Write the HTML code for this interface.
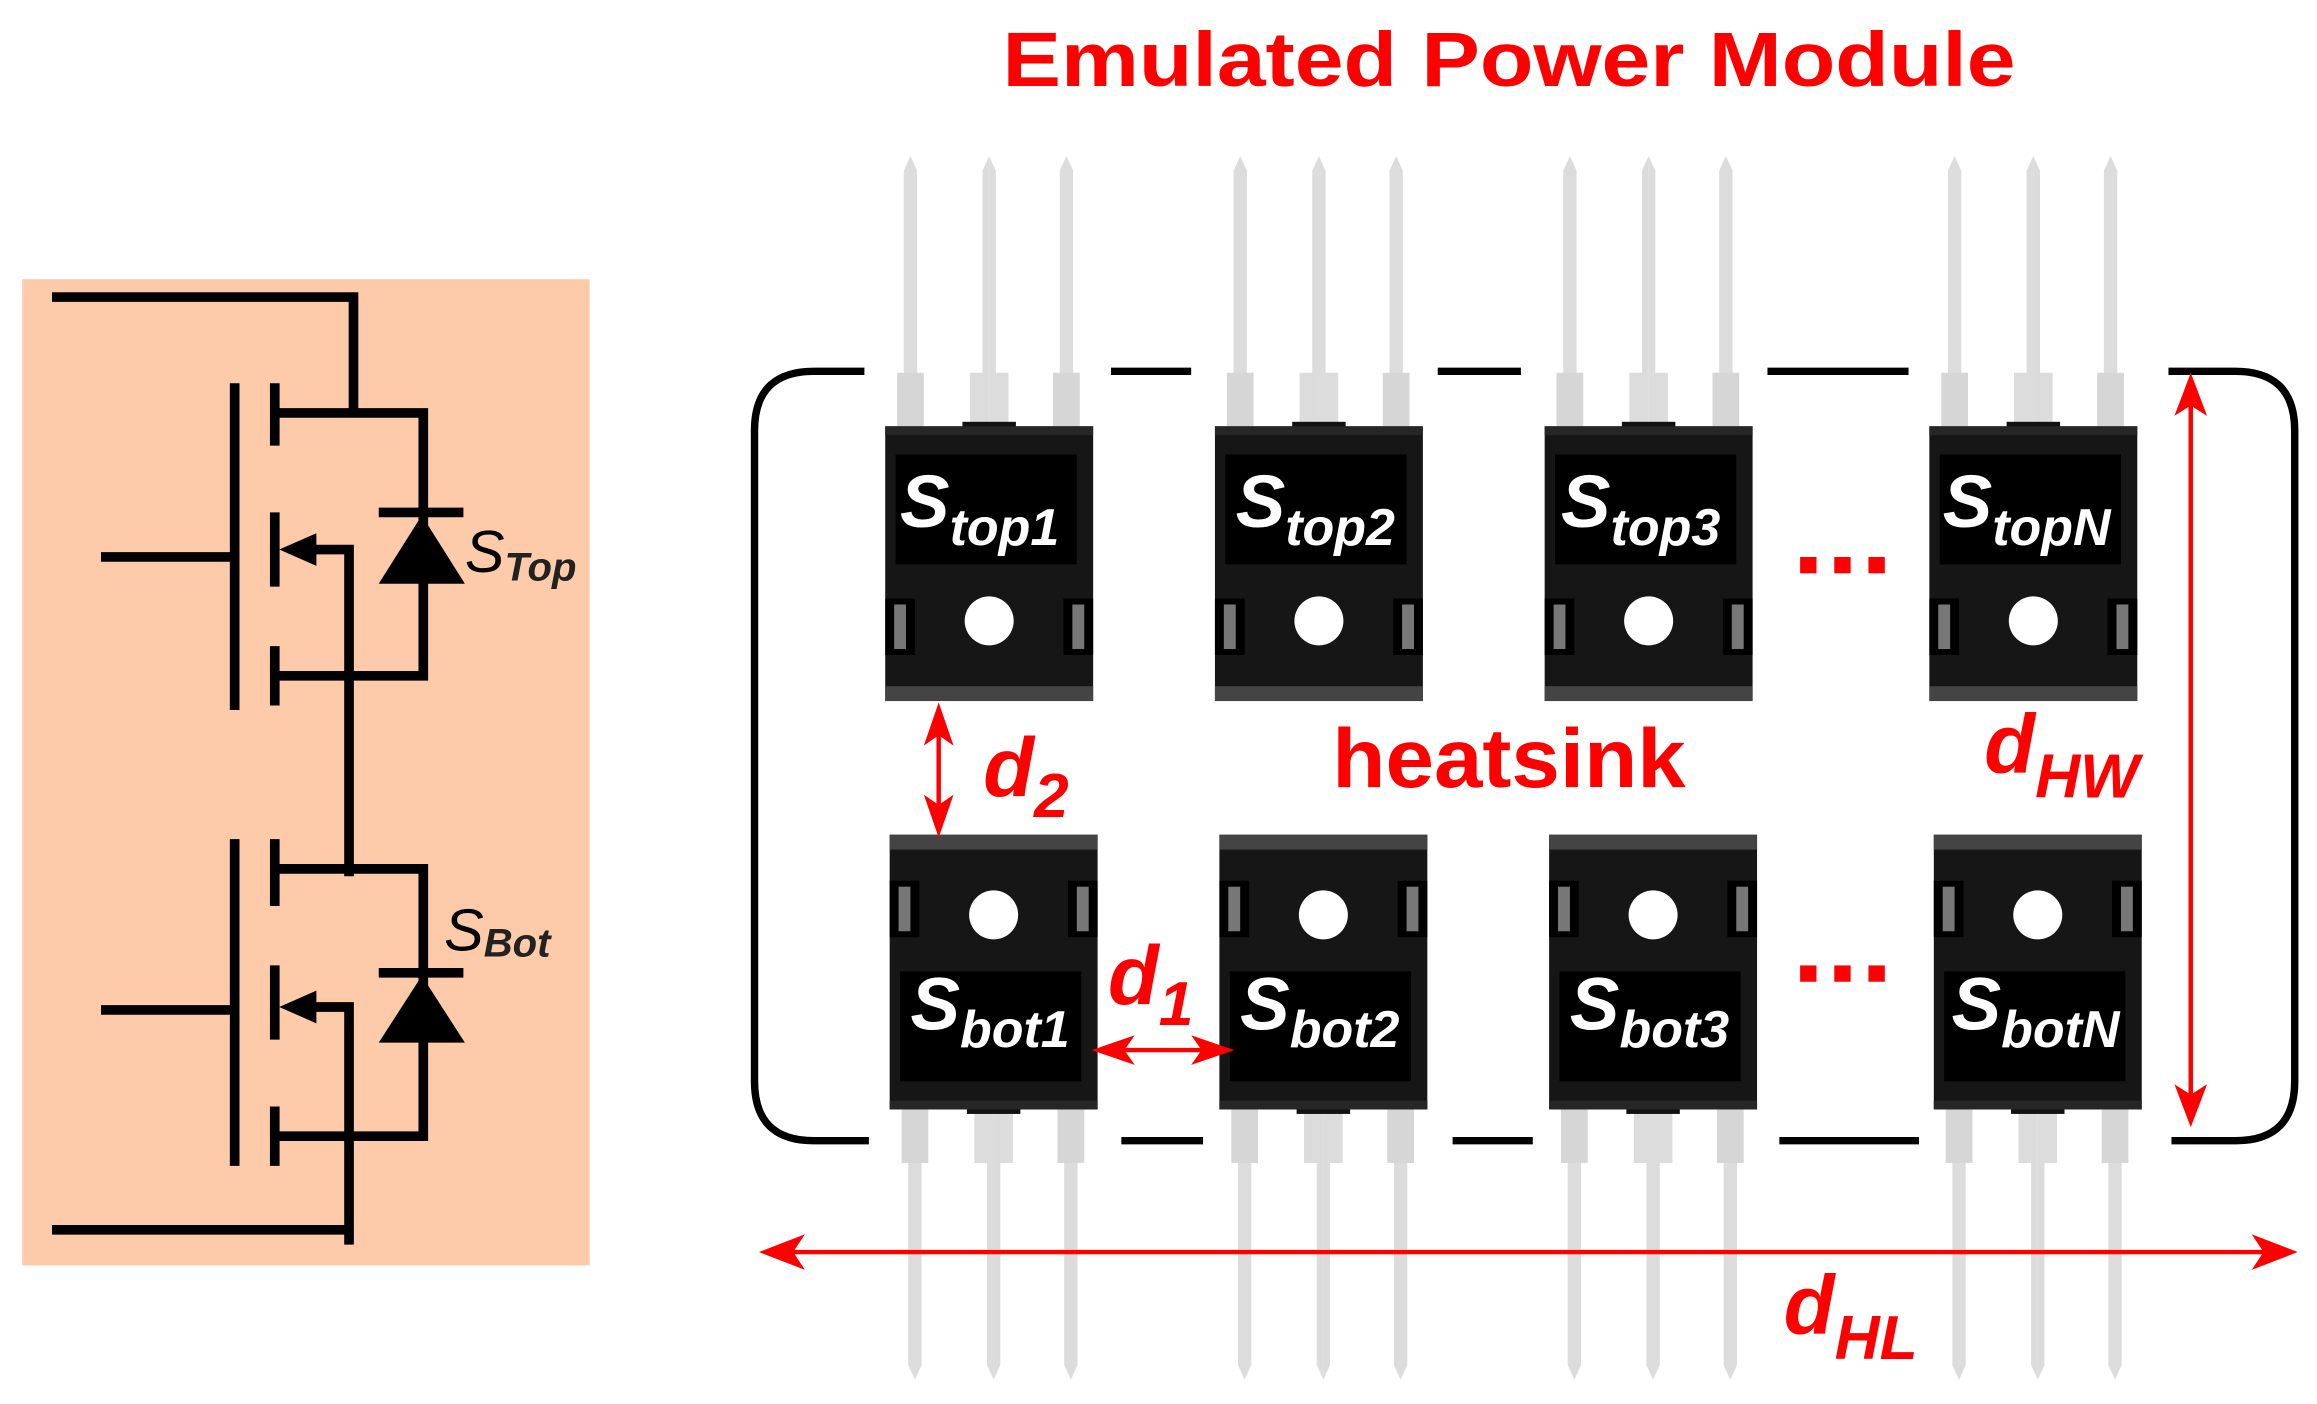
<!DOCTYPE html>
<html><head><meta charset="utf-8"><style>
html,body{margin:0;padding:0;background:#fff;}
svg{display:block;}
</style></head><body>
<svg width="2317" height="1404" viewBox="0 0 1560 945.3" preserveAspectRatio="none" xmlns="http://www.w3.org/2000/svg">
<defs>
<g id="lead">
  <polygon points="-4.5,0 -4.5,-172 0,-182 4.5,-172 4.5,0" fill="#dcdcdc"/>
  <rect x="-9" y="-36" width="18" height="36" fill="#d6d6d6"/>
</g>
<g id="dev">
  <use href="#lead" x="17" y="0"/>
  <use href="#lead" x="122" y="0"/>
  <polygon points="70,0 70,-182 74.5,-172 74.5,-36 83,-36 83,0" fill="#dcdcdc"/>
  <polygon points="70,0 70,-182 65.5,-172 65.5,-36 57,-36 57,0" fill="#dcdcdc"/>
  <rect x="0" y="0" width="140" height="185" fill="#161616"/>
  <rect x="52" y="-3" width="36" height="6" fill="#111"/>
  <rect x="0" y="0" width="140" height="6" fill="#262626"/>
  <rect x="7" y="19" width="122" height="74" fill="#000"/>
  <circle cx="70" cy="131" r="16.5" fill="#fff"/>
  <rect x="0" y="116" width="20" height="38" fill="#000"/>
  <rect x="6" y="120" width="8" height="30" fill="#777"/>
  <rect x="120" y="116" width="20" height="38" fill="#000"/>
  <rect x="126" y="120" width="8" height="30" fill="#777"/>
  <rect x="0" y="175" width="140" height="10" fill="#444"/>
</g>
</defs>

<rect x="15" y="188" width="382" height="664" fill="#fdcaaa"/>
<g stroke="#000" stroke-width="6.5" fill="none">
  <polyline points="35,200 238,200 238,278"/>
  <polyline points="185,278 285,278 285,455 185,455"/>
  <line x1="158" y1="258" x2="158" y2="478"/>
  <line x1="68" y1="375" x2="158" y2="375"/>
  <line x1="185" y1="258" x2="185" y2="300"/>
  <line x1="185" y1="345" x2="185" y2="395"/>
  <line x1="185" y1="435" x2="185" y2="475"/>
  <polyline points="200,370 235,370 235,590"/>
  <line x1="255" y1="345" x2="312" y2="345"/>
  <polyline points="185,585 285,585 285,765 185,765"/>
  <line x1="158" y1="565" x2="158" y2="785"/>
  <line x1="68" y1="680" x2="158" y2="680"/>
  <line x1="185" y1="565" x2="185" y2="610"/>
  <line x1="185" y1="650" x2="185" y2="700"/>
  <line x1="185" y1="745" x2="185" y2="785"/>
  <polyline points="200,678 235,678 235,838"/>
  <line x1="35" y1="828" x2="235" y2="828"/>
  <line x1="255" y1="655" x2="312" y2="655"/>
</g>
<polygon points="188,370 213,359 213,381" fill="#000"/>
<polygon points="188,678 213,667 213,689" fill="#000"/>
<polygon points="284,347 255,393 313,393" fill="#000"/>
<polygon points="284,657 255,702 313,702" fill="#000"/>
<text x="313" y="385" font-family="Liberation Sans, sans-serif" font-style="italic" font-size="40" fill="#000">S<tspan font-size="27" dy="6" font-weight="bold" fill="#222">Top</tspan></text>
<text x="299" y="640" font-family="Liberation Sans, sans-serif" font-style="italic" font-size="40" fill="#000">S<tspan font-size="27" dy="4" font-weight="bold" fill="#222">Bot</tspan></text>

<text x="1016" y="58" text-anchor="middle" font-family="Liberation Sans, sans-serif" font-weight="bold" font-size="52" fill="#f00" textLength="682" lengthAdjust="spacingAndGlyphs">Emulated Power Module</text>

<g stroke="#000" stroke-width="5" fill="none">
  <path d="M582,250 L548,250 Q508,250 508,290 L508,728 Q508,768 548,768 L585,768"/>
  <path d="M1460,250 L1505,250 Q1545,250 1545,290 L1545,728 Q1545,768 1505,768 L1462,768"/>
  <line x1="748" y1="250" x2="802" y2="250"/>
  <line x1="968" y1="250" x2="1024" y2="250"/>
  <line x1="1190" y1="250" x2="1285" y2="250"/>
  <line x1="755" y1="768" x2="810" y2="768"/>
  <line x1="978" y1="768" x2="1032" y2="768"/>
  <line x1="1198" y1="768" x2="1292" y2="768"/>
</g>

<use href="#dev" transform="translate(596,287)"/>
<use href="#dev" transform="translate(818,287)"/>
<use href="#dev" transform="translate(1040,287)"/>
<use href="#dev" transform="translate(1299,287)"/>
<use href="#dev" transform="translate(599,747) scale(1,-1)"/>
<use href="#dev" transform="translate(821,747) scale(1,-1)"/>
<use href="#dev" transform="translate(1043,747) scale(1,-1)"/>
<use href="#dev" transform="translate(1302,747) scale(1,-1)"/>

<g font-family="Liberation Sans, sans-serif" font-weight="bold" font-style="italic" fill="#fff">
  <text x="606" y="355" font-size="50">S<tspan font-size="35" dy="12">top1</tspan></text>
  <text x="832" y="355" font-size="50">S<tspan font-size="35" dy="12">top2</tspan></text>
  <text x="1051" y="355" font-size="50">S<tspan font-size="35" dy="12">top3</tspan></text>
  <text x="1308" y="355" font-size="50">S<tspan font-size="35" dy="12">topN</tspan></text>
  <text x="613" y="693" font-size="50">S<tspan font-size="35" dy="12">bot1</tspan></text>
  <text x="835" y="693" font-size="50">S<tspan font-size="35" dy="12">bot2</tspan></text>
  <text x="1057" y="693" font-size="50">S<tspan font-size="35" dy="12">bot3</tspan></text>
  <text x="1314" y="693" font-size="50">S<tspan font-size="35" dy="12">botN</tspan></text>
</g>

<g fill="#f00">
  <rect x="1212" y="375" width="11" height="11"/><rect x="1235" y="375" width="11" height="11"/><rect x="1258" y="375" width="11" height="11"/>
  <rect x="1212" y="650" width="11" height="11"/><rect x="1235" y="650" width="11" height="11"/><rect x="1258" y="650" width="11" height="11"/>
</g>

<g font-family="Liberation Sans, sans-serif" font-weight="bold" fill="#f00">
  <text x="897" y="530" font-size="56" textLength="238" lengthAdjust="spacingAndGlyphs">heatsink</text>
  <text x="662" y="536" font-size="56" font-style="italic">d<tspan font-size="42" dy="14">2</tspan></text>
  <text x="746" y="676" font-size="56" font-style="italic">d<tspan font-size="42" dy="14">1</tspan></text>
  <text x="1336" y="520" font-size="56" font-style="italic">d<tspan font-size="42" dy="17">HW</tspan></text>
  <text x="1201" y="898" font-size="56" font-style="italic">d<tspan font-size="42" dy="17">HL</tspan></text>
</g>

<g stroke="#f00" stroke-width="3" fill="none">
  <line x1="632" y1="485" x2="632" y2="552"/>
  <line x1="746" y1="707" x2="820" y2="707"/>
  <line x1="1475" y1="262" x2="1475" y2="748"/>
  <line x1="522" y1="843" x2="1535" y2="843"/>
</g>
<g fill="#f00">
  <polygon points="632,473 642,502 632,495 622,502"/>
  <polygon points="632,564 642,535 632,542 622,535"/>
  <polygon points="735,707 764,697 757,707 764,717"/>
  <polygon points="831,707 802,697 809,707 802,717"/>
  <polygon points="1475,251 1486,280 1475,273 1464,280"/>
  <polygon points="1475,759 1486,730 1475,737 1464,730"/>
  <polygon points="511,843 542,831 534,843 542,855"/>
  <polygon points="1547,843 1516,831 1524,843 1516,855"/>
</g>
</svg>
</body></html>
